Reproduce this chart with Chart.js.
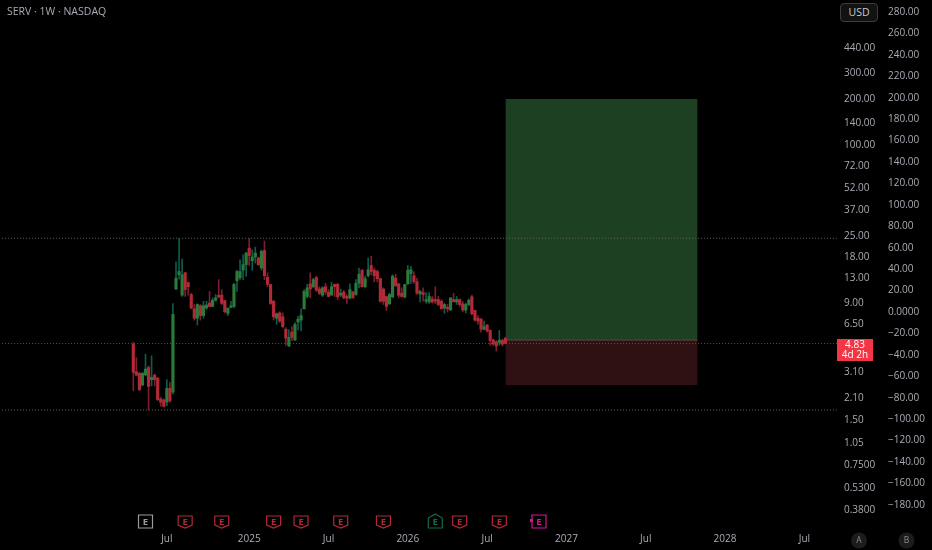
<!DOCTYPE html>
<html>
<head>
<meta charset="utf-8">
<title>SERV 1W</title>
<style>
  html, body { margin: 0; padding: 0; background: #000; }
  #wrap { position: relative; width: 932px; height: 550px; overflow: hidden; }
  #titulo { position: absolute; left: 7px; top: 4px; color: #a9acb3; font: 10.5px "Open Sans", sans-serif; }
  #usd { position: absolute; left: 840px; top: 3px; width: 36px; height: 17px; line-height: 17px; text-align: center;
         color: #c8cad0; font: 10.5px/17px "Open Sans", sans-serif; background: #121212; border: 1px solid #3c3c3c; border-radius: 4px; }
</style>
<script src="https://cdn.jsdelivr.net/npm/chart.js@4"></script>
</head>
<body>
<div id="wrap">
  <canvas id="grafica" width="932" height="550"></canvas>
  <div id="titulo">SERV · 1W · NASDAQ</div>
  <div id="usd">USD</div>
</div>
<script>
// --- datos semanales ---
const opens = [
  4.78, 3.14, 3.06, 2.56, 2.99, 3.35, 2.78, 2.98, 2.84, 2.07,
  2.04, 1.97, 2.44, 2.30, 11.1, 13.8, 10.1, 14.2, 12.2, 10.2,
  8.20, 7.10, 8.60, 7.40, 8.30, 8.95, 8.50, 9.35, 10.1, 10.1,
  9.30, 7.65, 8.40, 8.50, 12.6, 13.2, 14.8, 16.1, 20.7, 17.1,
  18.1, 17.8, 15.3, 20.0, 13.3, 11.9, 9.20, 7.10, 7.70, 7.25,
  6.00, 4.65, 5.75, 5.10, 6.70, 6.90, 8.20, 9.90, 12.0, 11.5,
  13.2, 11.1, 10.1, 11.5, 10.6, 10.1, 11.9, 11.9, 10.1, 10.6,
  9.90, 9.65, 10.6, 10.2, 12.1, 14.8, 11.5, 13.6, 15.9, 14.8,
  14.5, 13.0, 11.1, 9.90, 8.85, 9.85, 13.1, 12.0, 10.4, 9.80,
  12.0, 14.0, 13.6, 12.4, 10.3, 10.5, 9.20, 9.10, 9.55, 9.45,
  9.45, 9.20, 8.30, 8.40, 8.05, 9.45, 9.10, 9.45, 8.85, 8.05,
  8.76, 9.85, 8.00, 7.10, 7.00, 6.00, 6.40, 5.90, 5.10, 4.95,
  4.90, 5.08, 5.25
];
const highs = [
  4.94, 3.89, 3.11, 3.11, 4.10, 3.44, 4.00, 3.03, 2.88, 2.12,
  2.07, 2.78, 2.67, 8.90, 16.8, 24.1, 17.5, 14.3, 12.4, 10.4,
  8.76, 8.85, 8.76, 9.20, 9.20, 10.7, 9.70, 10.2, 12.8, 11.0,
  9.35, 8.30, 9.20, 12.1, 14.8, 17.3, 18.7, 19.4, 24.1, 20.2,
  21.0, 18.1, 20.2, 23.1, 14.2, 11.9, 9.35, 7.70, 7.85, 7.70,
  6.15, 5.95, 6.25, 6.65, 7.30, 8.20, 11.0, 11.9, 14.2, 13.1,
  13.5, 11.5, 11.5, 12.1, 11.0, 12.3, 12.0, 12.1, 11.1, 10.9,
  10.2, 12.0, 10.7, 12.8, 15.3, 14.9, 13.5, 17.8, 18.3, 15.3,
  14.8, 13.1, 11.3, 9.90, 10.4, 13.8, 13.9, 12.1, 11.3, 11.9,
  15.9, 15.7, 14.5, 13.1, 10.9, 11.3, 10.5, 10.5, 9.90, 11.5,
  9.90, 9.45, 8.90, 8.76, 9.70, 10.4, 9.90, 9.55, 9.20, 8.95,
  9.55, 10.1, 8.05, 7.40, 7.10, 6.80, 6.47, 5.95, 5.15, 5.05,
  5.90, 5.15, 5.30
];
const lows = [
  2.35, 2.95, 2.35, 2.53, 2.95, 1.75, 2.53, 2.53, 2.02, 1.85,
  1.83, 1.87, 1.97, 2.24, 11.0, 12.9, 9.90, 9.90, 10.1, 8.20,
  6.90, 6.40, 6.90, 7.10, 8.12, 8.45, 8.45, 9.20, 9.70, 8.76,
  7.70, 7.40, 8.30, 8.30, 10.7, 12.8, 12.8, 13.5, 15.9, 14.8,
  16.5, 15.9, 14.8, 12.8, 11.5, 8.76, 6.90, 6.47, 6.65, 6.15,
  4.70, 4.60, 5.05, 5.05, 5.95, 5.85, 8.20, 9.70, 9.70, 11.3,
  10.7, 10.2, 9.90, 10.2, 9.85, 10.1, 9.90, 9.45, 9.90, 9.55,
  8.90, 9.55, 9.60, 10.1, 11.3, 11.4, 11.3, 13.3, 13.8, 12.4,
  12.4, 9.10, 8.76, 8.00, 8.76, 9.70, 11.5, 9.70, 9.80, 9.70,
  11.9, 12.1, 12.1, 10.2, 9.10, 9.20, 8.95, 8.90, 8.95, 8.90,
  8.60, 8.20, 7.65, 7.80, 8.00, 9.10, 8.76, 8.50, 7.85, 7.70,
  8.60, 7.50, 6.80, 6.47, 5.75, 5.95, 5.75, 4.70, 4.70, 4.30,
  4.70, 4.65, 4.80
];
const closes = [
  3.11, 2.98, 2.39, 3.06, 3.27, 2.51, 2.88, 2.78, 2.05, 1.97,
  1.85, 2.44, 2.01, 7.53, 13.1, 14.5, 13.8, 11.0, 11.5, 8.30,
  7.10, 8.76, 7.40, 8.60, 8.70, 8.50, 9.35, 9.70, 9.80, 8.90,
  7.85, 8.30, 8.60, 11.9, 14.5, 14.5, 16.1, 19.2, 18.5, 18.1,
  19.2, 16.1, 19.7, 13.6, 11.9, 8.90, 7.25, 7.60, 6.80, 6.25,
  5.25, 5.30, 5.30, 6.47, 7.00, 7.40, 10.7, 11.3, 11.1, 12.8,
  10.9, 10.4, 11.3, 10.6, 9.90, 11.5, 11.5, 9.85, 10.4, 9.70,
  9.65, 11.0, 9.75, 12.1, 13.9, 11.5, 13.0, 14.9, 14.5, 13.6,
  13.0, 9.20, 9.20, 8.50, 10.2, 13.5, 11.7, 10.1, 9.90, 11.9,
  14.8, 14.9, 12.4, 10.4, 10.7, 10.2, 9.45, 9.90, 9.10, 9.20,
  8.76, 8.20, 8.76, 8.20, 9.70, 9.15, 9.45, 8.76, 8.05, 8.76,
  9.35, 7.60, 6.90, 6.80, 6.00, 6.25, 5.85, 5.05, 4.78, 4.65,
  5.08, 4.78, 4.83
];

// etiquetas de los ejes
const priceTicks = [440, 300, 200, 140, 100, 72, 52, 37, 25, 18, 13, 9, 6.5, 3.1, 2.1, 1.5, 1.05, 0.75, 0.53, 0.38];
const percentTicks = [280, 260, 240, 220, 200, 180, 160, 140, 120, 100, 80, 60, 40, 20, 0,
  -20, -40, -60, -80, -100, -120, -140, -160, -180];
const timeTicks = [11, 38, 64, 90, 116, 142, 168, 194, 220];
const timeLabels = ['Jul', '2025', 'Jul', '2026', 'Jul', '2027', 'Jul', '2028', 'Jul'];

// niveles y caja de la posicion larga
const lastPrice = 4.83;
const allTimeHigh = 24.1;
const allTimeLow = 1.75;
const entryPrice = 5.09;
const targetPrice = 202;
const stopPrice = 2.56;
const positionWeeks = [122, 185];
const lastPriceLabels = ['4.83', '4d 2h'];

// marcadores de resultados (semana y tipo)
const earningsWeeks = [4, 17, 29, 46, 55, 68, 82, 99, 107, 120, 133];
const earningsKinds = ['plain', 'miss', 'miss', 'miss', 'miss', 'miss', 'miss', 'beat', 'miss', 'miss', 'next'];

// Colores
const upBody = '#2c7a39';
const upWick = '#0d5c4c';
const downBody = '#b22a38';
const downWick = '#7c1e2d';
const tickColor = '#a9acb3';
const fuente = '"Open Sans", sans-serif';

const weeks = opens.map((_, i) => i);

// --- Marcadores E, etiqueta de precio y botones A/B ---
const markersPlugin = {
  id: 'marcadores',
  afterDraw(chart) {
    const ctx = chart.ctx;
    const xs = chart.scales.x;
    const ys = chart.scales.y;
    const colores = { plain: '#9a9a9a', miss: '#b22a38', beat: '#136b4c', next: '#d5149a' };

    earningsWeeks.forEach((w, i) => {
      const kind = earningsKinds[i];
      const cx = xs.getPixelForValue(w);
      const top = 515, bottom = 528, hw = 7;
      ctx.save();
      ctx.strokeStyle = colores[kind];
      ctx.lineWidth = 1.2;
      ctx.beginPath();
      if (kind === 'miss') {
        ctx.moveTo(cx - hw, top + 1); ctx.lineTo(cx + hw, top + 1); ctx.lineTo(cx + hw, bottom - 3);
        ctx.lineTo(cx, bottom); ctx.lineTo(cx - hw, bottom - 3);
      } else if (kind === 'beat') {
        ctx.moveTo(cx, top - 1); ctx.lineTo(cx + hw, top + 3); ctx.lineTo(cx + hw, bottom);
        ctx.lineTo(cx - hw, bottom); ctx.lineTo(cx - hw, top + 3);
      } else {
        ctx.moveTo(cx - hw, top); ctx.lineTo(cx + hw, top); ctx.lineTo(cx + hw, bottom); ctx.lineTo(cx - hw, bottom);
      }
      ctx.closePath();
      ctx.stroke();
      if (kind === 'next') {
        ctx.fillStyle = colores[kind];
        ctx.fillRect(cx - hw - 2, 519, 3, 3);
      }
      ctx.fillStyle = colores[kind];
      ctx.font = 'bold 9.5px ' + fuente;
      ctx.textAlign = 'center';
      ctx.textBaseline = 'middle';
      ctx.fillText('E', cx, (top + bottom) / 2 + 0.5);
      ctx.restore();
    });

    // etiqueta del ultimo precio
    const py = ys.getPixelForValue(lastPrice);
    ctx.save();
    ctx.fillStyle = '#f23645';
    ctx.fillRect(837, py - 4.5, 36, 22);
    ctx.fillStyle = '#ffffff';
    ctx.font = '10px ' + fuente;
    ctx.textAlign = 'center';
    ctx.textBaseline = 'middle';
    ctx.fillText(lastPriceLabels[0], 855, py + 1.5);
    ctx.fillText(lastPriceLabels[1], 855, py + 11.5);
    ctx.restore();

    // botones A y B
    [['A', 859], ['B', 906.5]].forEach(([txt, x]) => {
      ctx.save();
      ctx.fillStyle = '#1c1c1c';
      ctx.beginPath();
      ctx.arc(x, 540.5, 8, 0, Math.PI * 2);
      ctx.fill();
      ctx.fillStyle = '#8b8d93';
      ctx.font = '8.5px ' + fuente;
      ctx.textAlign = 'center';
      ctx.textBaseline = 'middle';
      ctx.fillText(txt, x, 541);
      ctx.restore();
    });
  }
};

// Chart.js reserva espacio extra para las etiquetas de los extremos, aqui no lo queremos
function sinPadding(scale) {
  scale.paddingLeft = 0;
  scale.paddingRight = 0;
  scale.paddingTop = 0;
  scale.paddingBottom = 0;
}

function nivel(valor, color, dash, semanas) {
  return {
    type: 'line',
    data: semanas.map(w => ({ x: w, y: valor })),
    borderColor: color,
    borderWidth: 1,
    borderDash: dash,
    pointRadius: 0,
    order: 4
  };
}

function zona(valor, base, color) {
  return {
    type: 'line',
    data: positionWeeks.map(w => ({ x: w, y: valor })),
    borderWidth: 0,
    pointRadius: 0,
    backgroundColor: color,
    fill: { value: base },
    order: 5
  };
}

const anchoTotal = [-44, 231];

new Chart(document.getElementById('grafica').getContext('2d'), {
  data: {
    datasets: [
      {
        type: 'bar',
        label: 'cuerpos',
        data: weeks.map(i => ({ x: i, y: [opens[i], closes[i]] })),
        backgroundColor: weeks.map(i => closes[i] >= opens[i] ? upBody : downBody),
        barThickness: 2.5,
        minBarLength: 1,
        grouped: false,
        order: 1
      },
      {
        type: 'bar',
        label: 'mechas',
        data: weeks.map(i => ({ x: i, y: [lows[i], highs[i]] })),
        backgroundColor: weeks.map(i => closes[i] >= opens[i] ? upWick : downWick),
        barThickness: 1,
        grouped: false,
        order: 2
      },
      zona(targetPrice, entryPrice, '#1e4022'),
      zona(stopPrice, entryPrice, '#2f1013'),
      nivel(entryPrice, '#5c4a46', [], positionWeeks),
      nivel(allTimeHigh, '#5f6166', [1, 2], anchoTotal),
      nivel(allTimeLow, '#5f6166', [1, 2], anchoTotal),
      nivel(lastPrice, '#a82c3a', [1, 2], anchoTotal)
    ]
  },
  options: {
    responsive: false,
    animation: false,
    parsing: { xAxisKey: 'x', yAxisKey: 'y' },
    layout: { padding: 0 },
    plugins: { legend: { display: false }, tooltip: { enabled: false } },
    scales: {
      x: {
        type: 'linear',
        offset: false,
        min: -43.7,
        max: 230.7,
        grid: { display: false, drawTicks: false },
        border: { display: false },
        afterFit(scale) { scale.height = 20; sinPadding(scale); },
        afterBuildTicks(scale) { scale.ticks = timeTicks.map(v => ({ value: v })); },
        ticks: {
          color: tickColor,
          font: { family: fuente, size: 10 },
          autoSkip: false,
          maxRotation: 0,
          padding: 3,
          callback: v => timeLabels[timeTicks.indexOf(v)]
        }
      },
      y: {
        type: 'logarithmic',
        position: 'right',
        weight: 0,
        min: 0.28,
        max: 915.6,
        grid: { display: false, drawTicks: false },
        border: { display: false },
        afterFit(scale) { scale.width = 45; sinPadding(scale); },
        afterBuildTicks(scale) { scale.ticks = priceTicks.map(v => ({ value: v })); },
        ticks: {
          color: tickColor,
          font: { family: fuente, size: 10 },
          autoSkip: false,
          padding: 7,
          callback: v => v < 1 ? v.toFixed(4) : v.toFixed(2)
        }
      },
      y2: {
        type: 'linear',
        position: 'right',
        weight: 1,
        min: -203.5,
        max: 291.2,
        display: true,
        grid: { display: false, drawTicks: false },
        border: { display: false },
        afterFit(scale) { scale.width = 50; sinPadding(scale); },
        afterBuildTicks(scale) { scale.ticks = percentTicks.map(v => ({ value: v })); },
        ticks: {
          color: tickColor,
          font: { family: fuente, size: 10 },
          autoSkip: false,
          padding: 6,
          callback: v => v === 0 ? '0.0000' : (v < 0 ? '−' + Math.abs(v).toFixed(2) : v.toFixed(2))
        }
      }
    }
  },
  plugins: [markersPlugin]
});
</script>
</body>
</html>
